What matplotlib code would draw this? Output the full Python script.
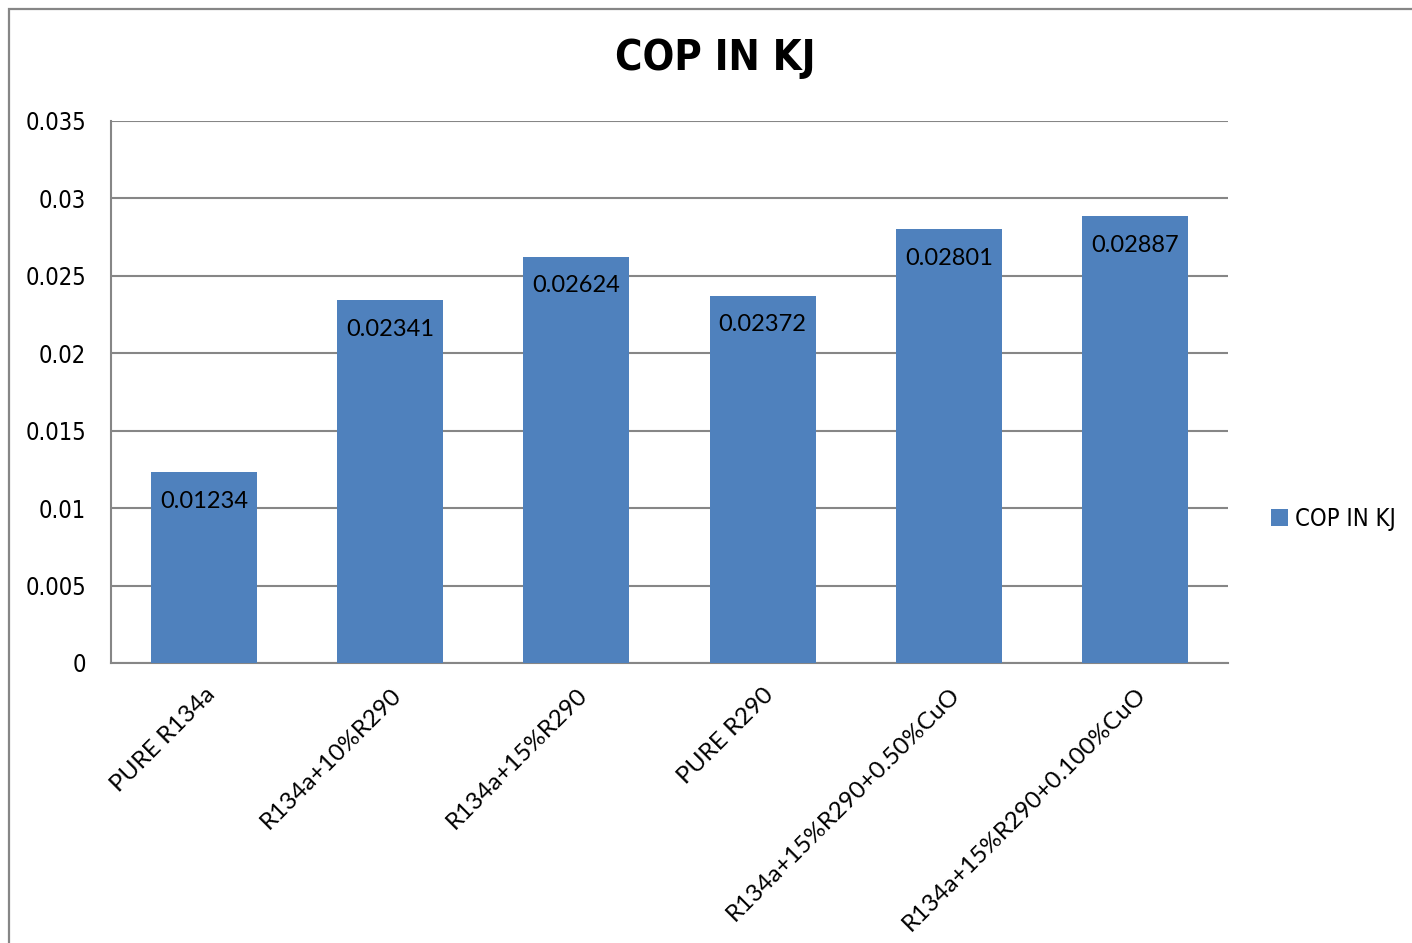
import matplotlib.pyplot as plt
from matplotlib.patches import Rectangle

# data
categories = ['PURE R134a', 'R134a+10%R290', 'R134a+15%R290', 'PURE R290',
              'R134a+15%R290+0.50%CuO', 'R134a+15%R290+0.100%CuO']
cop = [0.01234, 0.02341, 0.02624, 0.02372, 0.02801, 0.02887]
yticks = [0, 0.005, 0.01, 0.015, 0.02, 0.025, 0.03, 0.035]
ytick_labels = ['0', '0.005', '0.01', '0.015', '0.02', '0.025', '0.03', '0.035']

narrow = ['DejaVu Sans']
calib = ['Lato', 'DejaVu Sans']
bar_color = '#4F81BD'
grid_color = '#868686'

fig = plt.figure(figsize=(14.12, 9.43), dpi=100)

# outer frame of the chart area
fig.patches.append(Rectangle((9 / 1412, -0.05), 1.1, 1 - 9 / 943 + 0.05,
                             transform=fig.transFigure, fill=False,
                             edgecolor=grid_color, lw=1.6))

ax = fig.add_axes([111 / 1412, 1 - 663 / 943, 1117 / 1412, 542 / 943])
x = range(len(categories))
bars = ax.bar(x, cop, width=0.57, color=bar_color, zorder=3, label='COP IN KJ')

ax.set_xlim(-0.5, len(categories) - 0.5)
ax.set_ylim(0, 0.035)
ax.set_yticks(yticks)
ax.set_yticklabels(ytick_labels, fontfamily=narrow, fontstretch='condensed',
                   fontsize=17)
ax.yaxis.grid(True, color=grid_color, lw=1.5, zorder=0)
ax.tick_params(axis='y', length=0, pad=18)
ax.tick_params(axis='x', length=0, pad=15)
ax.set_xticks(list(x))
ax.set_xticklabels(categories, rotation=45, ha='right', va='top',
                   rotation_mode='anchor', fontfamily=calib, fontsize=17.5)

for s in ['top', 'right']:
    ax.spines[s].set_visible(False)
for s in ['left', 'bottom']:
    ax.spines[s].set_color(grid_color)
    ax.spines[s].set_linewidth(1.5)

for b, v in zip(bars, cop):
    ax.annotate(f'{v:.5f}', (b.get_x() + b.get_width() / 2, v),
                xytext=(0, -21), textcoords='offset points',
                ha='center', va='center', fontfamily=calib, fontsize=17,
                zorder=4)

fig.text(715 / 1412, 1 - 58 / 943, 'COP IN KJ', ha='center', va='center',
         fontfamily=narrow, fontstretch='condensed', fontweight='bold',
         fontsize=30)

leg = fig.legend(handles=[bars], labels=['COP IN KJ'], loc='center left',
                 bbox_to_anchor=(1250 / 1412, 1 - 519 / 943), frameon=False,
                 prop={'family': narrow, 'stretch': 'condensed', 'size': 17},
                 handlelength=0.7, handleheight=0.7, handletextpad=0.3)

fig.savefig('out.png', dpi=100)
